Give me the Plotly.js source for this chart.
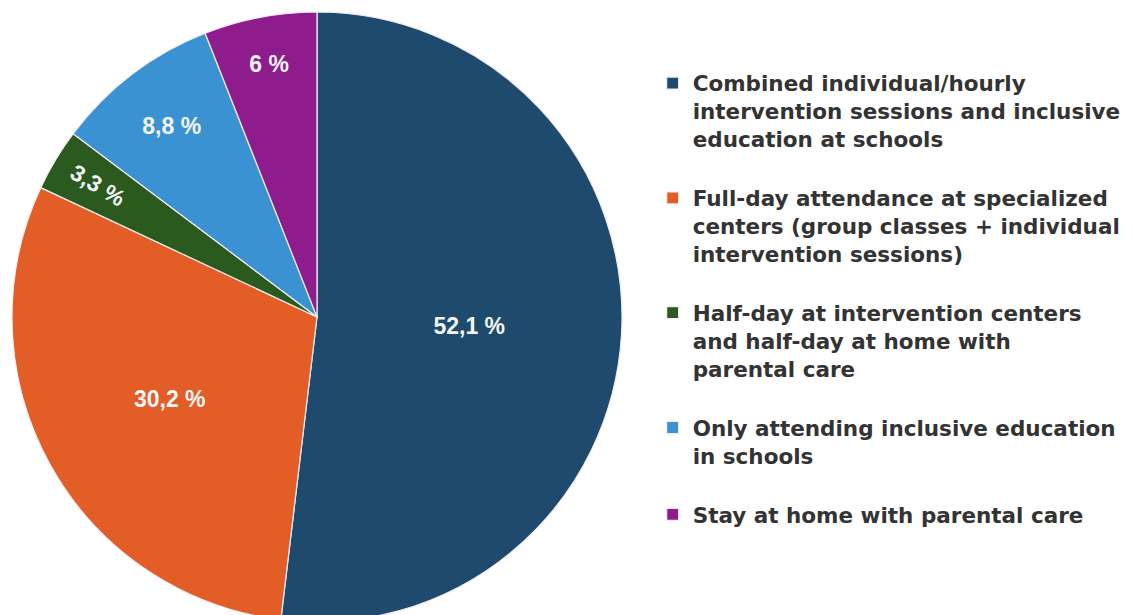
<!DOCTYPE html>
<html>
<head>
<meta charset="utf-8">
<script src="https://cdn.plot.ly/plotly-3.0.1.min.js"></script>
<style>
  html, body { margin: 0; padding: 0; overflow: hidden; background: #ffffff; }
  #chart { width: 1134px; height: 630px; }
</style>
</head>
<body>
<div id="chart"></div>
<script>
const categories = [
  "Combined individual/hourly<br>intervention sessions and inclusive<br>education at schools",
  "Full-day attendance at specialized<br>centers (group classes + individual<br>intervention sessions)",
  "Half-day at intervention centers<br>and half-day at home with<br>parental care",
  "Only attending inclusive education<br>in schools",
  "Stay at home with parental care"
];
const shares = [52.1, 30.2, 3.3, 8.8, 6];
const sliceColors = ["#1e4b6d", "#e35d26", "#2b5a1e", "#3a92d2", "#8e1c8c"];

const sliceText = shares.map(v => String(v).replace('.', ',') + ' %');
const legendLabels = categories.map(c => c + '<br> ');

const trace = {
  type: 'pie',
  labels: legendLabels,
  values: shares,
  text: sliceText,
  textinfo: 'text',
  textposition: 'inside',
  textorientation: 'auto',
  insidetextfont: { family: 'Liberation Sans, Arial, sans-serif', size: 23, color: '#f4f6f8', weight: 'bold' },
  sort: false,
  direction: 'clockwise',
  rotation: 0,
  marker: { colors: sliceColors, line: { color: '#f3ecf3', width: 1.2 } },
  domain: { x: [0, 610 / 1122], y: [0, 1] },
  hoverinfo: 'skip'
};

const layout = {
  width: 1134,
  height: 630,
  margin: { l: 12, r: 0, t: 12, b: 8 },
  paper_bgcolor: '#ffffff',
  showlegend: true,
  legend: {
    x: 0.571,
    y: 0.917,
    xanchor: 'left',
    yanchor: 'top',
    valign: 'top',
    font: { family: 'DejaVu Sans, sans-serif', size: 21.5, color: '#333333', weight: 'bold' },
    bgcolor: 'rgba(0,0,0,0)'
  }
};

Plotly.newPlot('chart', [trace], layout, { displayModeBar: false, staticPlot: true });
</script>
</body>
</html>
